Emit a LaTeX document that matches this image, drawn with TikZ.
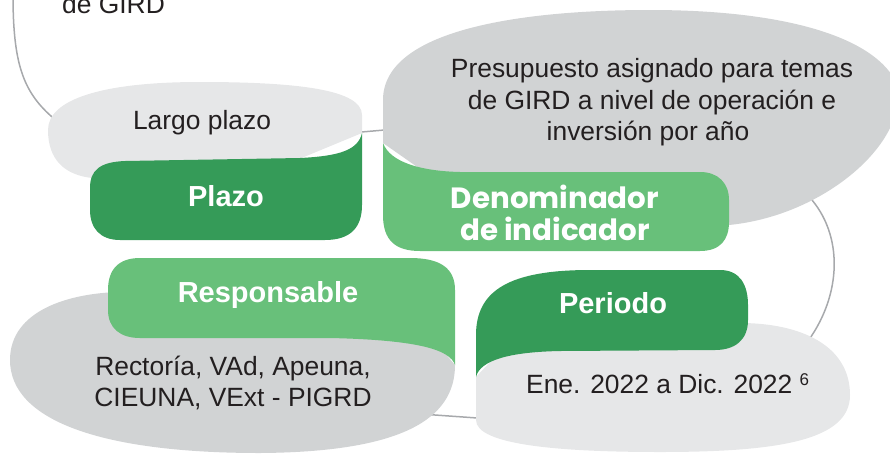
\documentclass[tikz,border=0pt]{standalone}
\usepackage{fontspec}
\setmainfont{Liberation Sans}
\newfontfamily\popfont{Poppins}
\definecolor{dkgreen}{HTML}{359B58}
\definecolor{ltgreen}{HTML}{68C07A}
\definecolor{midgray}{HTML}{D1D3D4}
\definecolor{ltgray}{HTML}{E6E7E8}
\definecolor{linegray}{HTML}{A7A9AC}
\definecolor{txt}{HTML}{231F20}
\tikzset{
  body/.style={font=\fontsize{26.4}{31.5}\selectfont, text=txt, inner sep=0pt, anchor=base},
  label/.style={font=\fontsize{29}{34}\selectfont\bfseries, text=white, inner sep=0pt, anchor=base},
  poplabel/.style={font=\fontsize{29.3}{34}\selectfont\popfont\bfseries, text=white, inner sep=0pt, anchor=base},
  link/.style={draw=linegray, line width=1.5pt},
}
\begin{document}
\begin{tikzpicture}[x=1pt,y=-1pt]
\useasboundingbox (0,0) rectangle (890,453);
% connector endpoints
\coordinate (c1a) at (13,-5);
\coordinate (c1b) at (62,125);
\coordinate (c2a) at (350,133);
\coordinate (c2b) at (396,129);
\coordinate (c3a) at (812,200);
\coordinate (c3b) at (805,345);
\coordinate (c4a) at (425,414.3);
\coordinate (c4b) at (500,419.6);
\draw[link] (c1a) .. controls (13,70) and (25,97) .. (c1b);
\draw[link] (c2a) -- (c2b);
\draw[link] (c3a) .. controls (845,240) and (840,300) .. (c3b);
\draw[link] (c4a) -- (c4b);
% Largo plazo blob
\fill[ltgray] (362,133) -- (362,115) .. controls (362,90) and (300,82) .. (200,82)
  .. controls (100,82) and (48,100) .. (48,130) .. controls (48,160) and (65,175) .. (92,178)
  -- (200,200) -- cycle;
% Plazo green
\fill[dkgreen] (362,133) -- (362,205) .. controls (362,228) and (350,240) .. (325,240)
  -- (120,240) .. controls (100,240) and (90,228) .. (90,210) -- (90,188)
  .. controls (90,170) and (100,162) .. (125,161) -- (300,158) .. controls (340,156) and (358,150) .. (362,133) -- cycle;
% big gray blob
\fill[midgray] (383,143) -- (383,100) .. controls (383,30) and (520,10) .. (650,10)
  .. controls (780,10) and (870,35) .. (895,80) .. controls (915,135) and (830,215) .. (729,225)
  -- (500,225) -- cycle;
% Denominador green
\fill[ltgreen] (383,143) -- (383,215) .. controls (383,240) and (395,251) .. (420,251)
  -- (700,251) .. controls (720,251) and (729,240) .. (729,222) -- (729,200)
  .. controls (729,183) and (718,172) .. (700,172) -- (460,172)
  .. controls (420,171) and (390,162) .. (383,143) -- cycle;
% Responsable gray
\fill[midgray] (455,365) .. controls (455,420) and (400,452) .. (260,453)
  .. controls (100,453) and (10,420) .. (10,360) .. controls (10,310) and (70,293) .. (120,292)
  -- (400,300) -- cycle;
% Responsable green
\fill[ltgreen] (455,365) -- (455,290) .. controls (455,268) and (440,258) .. (410,258)
  -- (140,258) .. controls (118,258) and (108,270) .. (108,290) -- (108,310)
  .. controls (108,328) and (120,338) .. (140,338) -- (330,338)
  .. controls (420,340) and (450,350) .. (455,365) -- cycle;
% Periodo light gray
\fill[ltgray] (476,377) -- (476,420) .. controls (476,445) and (560,452) .. (660,452)
  .. controls (780,452) and (850,440) .. (850,395) .. controls (850,345) and (800,323) .. (740,323)
  -- (520,330) -- cycle;
% Periodo green
\fill[dkgreen] (476,377) -- (476,335) .. controls (476,290) and (510,270) .. (590,270)
  -- (720,270) .. controls (740,270) and (748,285) .. (748,305) -- (748,320)
  .. controls (748,340) and (735,350) .. (715,350) -- (560,351)
  .. controls (510,352) and (480,360) .. (476,377) -- cycle;
% texts
\node[body, anchor=base west] (gird) at (62,13) {de GIRD};
\node[body] (largo) at (202,129) {Largo plazo};
\node[label] (plazo) at (226,206) {Plazo};
\node[body] (pres1) at (652,77) {Presupuesto asignado para temas};
\node[body] (pres2) at (652,109) {de GIRD a nivel de operación e};
\node[body] (pres3) at (648,140) {inversión por año};
\node[poplabel] (den1) at (555,208) {Denominador};
\node[poplabel] (den2) at (555,240) {de indicador};
\node[label] (resp) at (268,302) {Responsable};
\node[body] (rect1) at (233,375) {Rectoría, VAd, Apeuna,};
\node[body] (rect2) at (233,406) {CIEUNA, VExt - PIGRD};
\node[label] (per) at (613,313) {Periodo};
\node[body, anchor=base west] (ene) at (526,393) {Ene. 2022 a Dic. 2022~\raisebox{8pt}{\fontsize{17}{17}\selectfont 6}};
\end{tikzpicture}
\end{document}
